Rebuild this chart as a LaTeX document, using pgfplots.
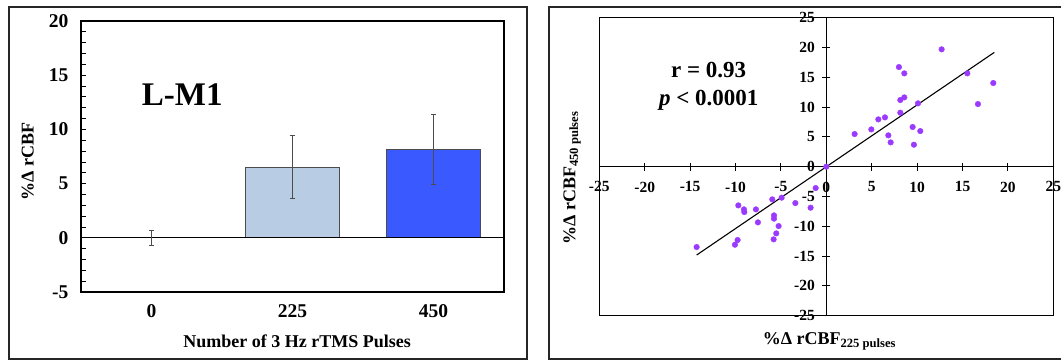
\documentclass[border=0pt]{standalone}
\usepackage{pgfplots}
\pgfplotsset{compat=1.18}
\usepackage{fontspec}
\setmainfont{Liberation Serif}
\definecolor{lightbar}{RGB}{184,204,228}
\definecolor{darkbar}{RGB}{58,90,255}
\definecolor{dotpurple}{RGB}{155,58,255}
\begin{document}
\begin{tikzpicture}
\useasboundingbox (0,0) rectangle (1061pt,360pt);
% panel frames
\draw[line width=2pt, black!85] (9pt,0.7pt) rectangle (526.7pt,352.7pt);
\draw[line width=2pt, black!85] (549pt,0.7pt) rectangle (1066pt,352.7pt);

% ---------------- left panel ----------------
\begin{axis}[
  at={(81pt,68pt)}, anchor=south west, scale only axis,
  width=423pt, height=271pt,
  xmin=-0.5, xmax=2.5, ymin=-5, ymax=20,
  xtick={0,1,2}, xticklabels={0,225,450},
  x tick style={draw=none},
  ytick={-5,0,5,10,15,20}, minor y tick num=4,
  ytick pos=left, tick align=inside,
  major tick length=5pt, minor tick length=5pt,
  every tick/.style={black, line width=0.8pt},
  ticklabel style={font=\fontsize{19.5}{19.5}\selectfont\bfseries},
  /pgf/number format/assume math mode=true,
  xticklabel style={yshift=-9pt},
  yticklabel style={xshift=-9pt},
  axis line style={line width=1.3pt},
  xlabel={Number of 3 Hz rTMS Pulses},
  ylabel={\%Δ rCBF},
  xlabel style={at={(axis description cs:0.511,-0.183)}, anchor=center, font=\fontsize{18}{18}\selectfont\bfseries},
  ylabel style={at={(axis description cs:-0.126,0.481)}, anchor=center, rotate=0, font=\fontsize{18}{18}\selectfont\bfseries},
  clip=false,
]
\addplot[ybar, bar width=0.667, bar shift=0pt, fill=lightbar, draw=black!70, line width=0.8pt] coordinates {(1,6.52)};
\addplot[ybar, bar width=0.667, bar shift=0pt, fill=darkbar, draw=black!70, line width=0.8pt] coordinates {(2,8.14)};
\draw[line width=1.2pt, black] (axis cs:-0.5,0) -- (axis cs:2.5,0);
\addplot[draw=none, mark=none, black!70,
  error bars/.cd, y dir=both, y explicit,
  error bar style={line width=0.9pt, black!70},
  error mark=-,
  error mark options={rotate=90, line width=0.9pt, black!70, mark size=2.5pt}]
  coordinates {(0,0) +- (0,0.68) (1,6.52) +- (0,2.9) (2,8.14) +- (0,3.25)};
\node[anchor=west, inner sep=0pt, font=\fontsize{33}{33}\selectfont\bfseries] at (rel axis cs:0.1435,0.727) {L-M1};
\end{axis}

% ---------------- right panel ----------------
\begin{axis}[
  at={(599.3pt,44.3pt)}, anchor=south west, scale only axis,
  width=454pt, height=298pt,
  xmin=-25, xmax=25, ymin=-25, ymax=25,
  axis lines=middle,
  axis line style={-, line width=1.1pt},
  every inner x axis line/.append style={-},
  every inner y axis line/.append style={-},
  hide obscured x ticks=false, hide obscured y ticks=false,
  xtick={-25,-20,...,25}, ytick={-25,-20,...,25},
  tick align=center, major tick length=8pt,
  every tick/.style={black, line width=0.9pt},
  ticklabel style={font=\fontsize{15.5}{15.5}\selectfont\bfseries},
  /pgf/number format/assume math mode=true,
  xticklabel style={anchor=north, yshift=-7.5pt},
  yticklabel style={anchor=east, xshift=-4pt},
  clip=false,
]
\draw[line width=1.3pt, black] (rel axis cs:0,0) rectangle (rel axis cs:1,1);
\addplot[black, line width=1.1pt] coordinates {(-14.28,-14.82) (18.50,19.18)};
\addplot[only marks, mark=*, mark size=2.8pt, dotpurple, mark options={draw=dotpurple, fill=dotpurple}] table {
x y
12.70 19.69
8.00 16.72
8.59 15.66
15.53 15.66
18.39 14.04
8.15 11.19
8.59 11.63
10.10 10.63
16.70 10.51
8.15 9.06
5.73 7.94
6.46 8.28
4.96 6.26
3.12 5.48
6.83 5.26
7.09 4.08
9.51 6.66
10.35 5.98
9.65 3.69
0.00 0.00
-1.17 -3.58
-4.92 -5.20
-5.95 -5.48
-3.41 -6.10
-1.73 -6.88
-9.69 -6.49
-9.07 -7.16
-9.03 -7.61
-7.75 -7.16
-7.53 -9.34
-5.76 -8.17
-5.76 -8.72
-5.25 -9.96
-5.51 -11.19
-5.80 -12.19
-9.77 -12.30
-10.06 -13.09
-14.28 -13.48
};
\node[anchor=base, font=\fontsize{23}{23}\selectfont\bfseries] at (rel axis cs:0.241,0.800) {r = 0.93};
\node[anchor=base, font=\fontsize{23}{23}\selectfont\bfseries] at (rel axis cs:0.241,0.7037) {\textit{p} < 0.0001};
\node[anchor=base, font=\fontsize{18}{18}\selectfont\bfseries] at (rel axis cs:0.507,-0.098) {\%Δ rCBF\textsubscript{225 pulses}};
\node[anchor=center, rotate=90, font=\fontsize{18}{18}\selectfont\bfseries] at (rel axis cs:-0.060,0.462) {\%Δ rCBF\textsubscript{450 pulses}};
\end{axis}
\end{tikzpicture}
\end{document}
